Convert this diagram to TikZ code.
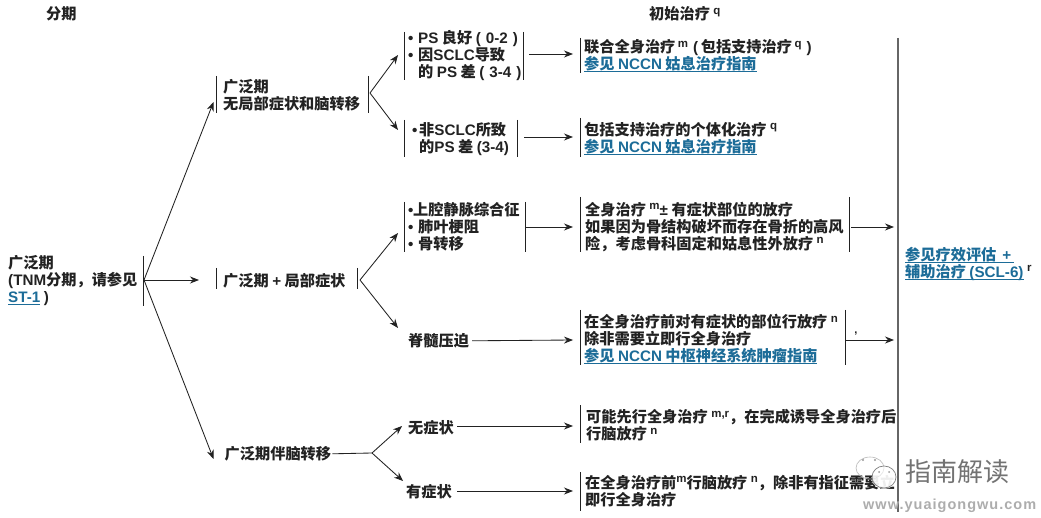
\documentclass[tikz,border=0pt]{standalone}
\usepackage{fontspec}
\usetikzlibrary{arrows.meta}
\setmainfont{Liberation Sans}
\newfontfamily\latf{Liberation Sans}
\newfontfamily\cjkf{Noto Sans CJK SC}
\newcommand\La[1]{{\latf\bfseries #1}}
\newcommand\Su[1]{\raisebox{5.5pt}{\latf\fontsize{11.5}{12}\selectfont #1}}
\definecolor{ink}{HTML}{222222}
\definecolor{lnk}{HTML}{1C6C98}
\newsavebox\lkbox
\newcommand\Lk[1]{\sbox\lkbox{\color{lnk}#1}\usebox\lkbox\hspace{-\wd\lkbox}\textcolor{lnk}{\rule[-2.1pt]{\wd\lkbox}{0.8pt}}}
\newcommand\Bu{\makebox[10pt][l]{\La{•}}}
\tikzset{
  x=1pt,y=-1pt,
  txt/.style={anchor=west,inner sep=0pt,align=left,text=ink,yshift=-0.8pt,
    font=\cjkf\bfseries\fontsize{15.2}{17}\selectfont},
  con/.style={draw=ink,line width=0.85pt},
  arr/.style={con,-{Stealth[length=9pt,width=7pt]}},
}
\newcommand\VB[4]{\coordinate (#1) at (#2,{(#3+#4)/2}); \draw[ink,line width=1pt] (#2,#3) -- (#2,#4);}
\begin{document}
\begin{tikzpicture}
\useasboundingbox (0,0) rectangle (1041,518);
\fill[white] (0,0) rectangle (1041,518);

% headings
\node[txt] (h1) at (46,13) {分期};
\node[txt] (h2) at (649,13) {初始治疗 \Su{q}};

% column 1
\node[txt] (stage) at (8,280) {广泛期\\\La{(TNM}分期，请参见\\\Lk{\La{ST-1}} \La{)}};
\VB{bs}{143}{256}{306}
% column 2
\node[txt] (n1) at (223,94.5) {广泛期\\无局部症状和脑转移};
\VB{n1l}{216.6}{76}{113}\VB{n1r}{368}{76}{113}
\node[txt] (n2) at (223,280) {广泛期 \La{+} 局部症状};
\VB{n2l}{216.6}{268}{289}\VB{n2r}{357.5}{268}{289}
\node[txt] (n3) at (224.5,453) {广泛期伴脑转移};
% column 3
\node[txt] (c1) at (408,54.5) {\Bu\La{PS} 良好 \La{(\,\,0-2\,\,)}\\\Bu 因\La{SCLC}导致\\\hspace{10pt}的 \La{PS} 差 \La{(\,\,3-4\,\,)}};
\VB{c1l}{404}{32}{80}\VB{c1r}{523}{32}{80}
\node[txt] (c2) at (412,138.5) {\makebox[7pt][l]{\La{•}}非\La{SCLC}所致\\\hspace{7pt}的\La{PS} 差 \La{(3-4)}};
\VB{c2l}{404}{120}{157}\VB{c2r}{517}{120}{157}
\node[txt] (c3) at (408,226) {\makebox[5pt][l]{\La{•}}上腔静脉综合征\\\Bu 肺叶梗阻\\\Bu 骨转移};
\VB{c3l}{404}{202}{252}\VB{c3r}{525.5}{202}{252}
\node[txt] (c4) at (408,340) {脊髓压迫};
\node[txt] (c5) at (408,427) {无症状};
\node[txt] (c6) at (406,491) {有症状};
% column 4
\node[txt] (t1) at (584,55) {联合全身治疗\,\Su{m}\,\,\La{(\,}包括支持治疗\,\Su{q}\,\,\La{)}\\\Lk{参见 \La{NCCN} 姑息治疗指南}};
\VB{t1l}{580.7}{38}{73}
\node[txt] (t2) at (584,137.5) {包括支持治疗的个体化治疗 \Su{q}\\\Lk{参见 \La{NCCN} 姑息治疗指南}};
\VB{t2l}{580.7}{118}{157}
\node[txt] (t3) at (585,226) {全身治疗 \Su{m}\La{±} 有症状部位的放疗\\如果因为骨结构破坏而存在骨折的高风\\险，考虑骨科固定和姑息性外放疗 \Su{n}};
\VB{t3l}{580.7}{197}{252}\VB{t3r}{849}{197}{252}
\node[txt] (t4) at (584,338.5) {在全身治疗前对有症状的部位行放疗 \Su{n}\\除非需要立即行全身治疗\\\Lk{参见 \La{NCCN} 中枢神经系统肿瘤指南}};
\VB{t4l}{580.7}{310}{365}\VB{t4r}{845}{310}{365}
\node[txt] (t5) at (586,424.5) {可能先行全身治疗 \Su{m,r}，在完成诱导全身治疗后\\行脑放疗 \Su{n}};
\VB{t5l}{580.7}{405}{443}
\node[txt] (t6) at (585,490) {在全身治疗前\Su{m}行脑放疗 \Su{n}，除非有指征需要立\\即行全身治疗};
\VB{t6l}{580.7}{472}{511}
% column 5
\node[txt] (out) at (905,263) {\Lk{参见疗效评估 \,\La{+}\,}\\\Lk{辅助治疗 \La{(SCL-6)}} \Su{r}};
\draw[black!60,line width=1.6pt] (898,38) -- (898,512);
\node[inner sep=0pt,text=ink,font=\latf\bfseries\fontsize{11}{11}\selectfont] (mk) at (856,334) {,};

% connectors
\coordinate (as) at (144,280);
\coordinate (e1) at (213.5,102);
\coordinate (e2) at (199,280);
\coordinate (e3) at (213.5,459);
\draw[arr] (as) -- (e1);
\draw[arr] (as) -- (e2);
\draw[arr] (as) -- (e3);
\coordinate (f1) at (370,93);
\coordinate (f1a) at (398,55);
\coordinate (f1b) at (398,130);
\draw[arr] (f1) -- (f1a);
\draw[arr] (f1) -- (f1b);
\coordinate (f2) at (360,280);
\coordinate (f2a) at (398,233);
\coordinate (f2b) at (398,328);
\draw[arr] (f2) -- (f2a);
\draw[arr] (f2) -- (f2b);
\coordinate (f3) at (372,453);
\coordinate (f3a) at (402,426);
\coordinate (f3b) at (403,481);
\draw[con] (n3.east) ++(1,0) -- (f3);
\draw[arr] (f3) -- (f3a);
\draw[arr] (f3) -- (f3b);
\coordinate (a1) at (529,54);\coordinate (a1e) at (573,54);
\coordinate (a2) at (524,137);\coordinate (a2e) at (573,137);
\coordinate (a3e) at (573,227);
\coordinate (a4e) at (573,340);
\coordinate (a5s) at (457,426);\coordinate (a5e) at (573,426);
\coordinate (a6s) at (457,491);\coordinate (a6e) at (573,491);
\draw[arr] (a1) -- (a1e);
\draw[arr] (a2) -- (a2e);
\draw[arr] (c3r) -- (a3e);
\draw[arr] (c4.east) ++(3,0) -- (a4e);
\draw[arr] (a5s) -- (a5e);
\draw[arr] (a6s) -- (a6e);
\coordinate (a7s) at (851,227);\coordinate (a7e) at (894,227);
\coordinate (a8s) at (846,340);\coordinate (a8e) at (894,340);
\draw[arr] (a7s) -- (a7e);
\draw[arr] (a8s) -- (a8e);

% watermark, laid over the picture
\fill[white,opacity=0.8] (884,479) ellipse (12 and 10);
\draw[black!28,line width=0.6pt] (870,468) ellipse (14 and 11);
\draw[black!50,line width=0.7pt,fill=white,fill opacity=0.6] (884,477) ellipse (12 and 11);
\fill[black!40] (863,460) circle (1.1) (875,460) circle (1.1) (879,472) circle (1) (889,472) circle (1);
\node[anchor=west,inner sep=0pt,text=black!55,font=\cjkf\fontsize{26}{28}\selectfont] (wm) at (905,472) {指南解读};
\node[anchor=west,inner sep=0pt,text=black!32,font=\latf\bfseries\fontsize{14.5}{15}\selectfont] (wmu) at (863,506) {\addfontfeature{LetterSpace=7}www.yuaigongwu.com};
\end{tikzpicture}
\end{document}
